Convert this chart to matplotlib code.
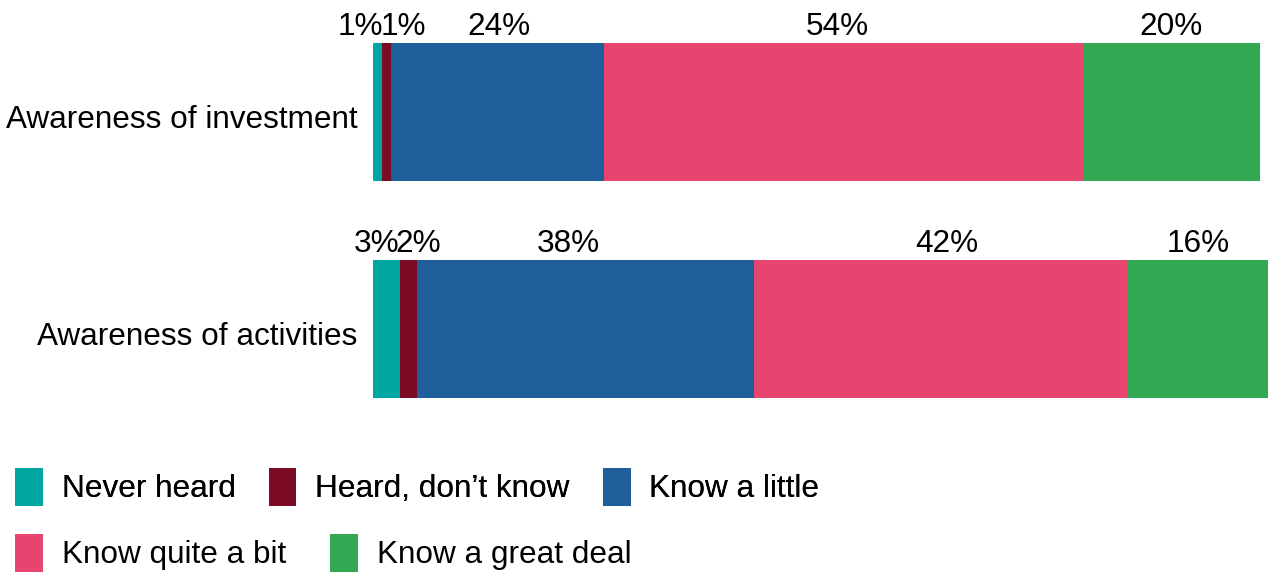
import matplotlib.pyplot as plt
import numpy as np

plt.rcParams['font.family'] = ['Liberation Sans', 'DejaVu Sans']

# data
questions = ["Awareness of investment", "Awareness of activities"]
categories = ["Never heard", "Heard, don\u2019t know", "Know a little",
              "Know quite a bit", "Know a great deal"]
investment = [1, 1, 24, 54, 20]
activities = [3, 2, 38, 42, 16]
colors = ["#00a6a0", "#7c0c24", "#1f5f9c", "#e84470", "#30a952"]

# small nudges (pixels) so the tiny labels do not overlap
label_dx = [[-17, 17, 2, -6, 0],
            [-10, 10, -18, 6, 0]]

FS = 22.7

fig = plt.figure(figsize=(12.68, 5.74), dpi=100)
ax = fig.add_axes([373 / 1268, 1 - 398 / 574, 887 / 1268, 355 / 574])

values = np.array([investment, activities])
y = np.arange(len(questions))
h = 0.634
left = np.zeros(len(questions))
bars = []
for j, cat in enumerate(categories):
    b = ax.barh(y, values[:, j], left=left, height=h, color=colors[j],
                label=cat, clip_on=False)
    bars.append(b)
    for i in range(len(questions)):
        cx = left[i] + values[i, j] / 2
        ax.annotate(f"{values[i, j]}%", xy=(cx, y[i] - h / 2),
                    xytext=(label_dx[i][j] * 0.72, 6), textcoords="offset points",
                    ha="center", va="baseline", fontsize=FS, annotation_clip=False)
    left = left + values[:, j]

# category labels on the left (a little below bar centre, as in the source)
for i, q in enumerate(questions):
    ax.annotate(q, xy=(0, y[i]), xycoords=("axes fraction", "data"),
                xytext=(-11, -3), textcoords="offset points",
                ha="right", va="center_baseline", fontsize=FS, annotation_clip=False)

ax.set_xlim(0, 100)
ax.set_ylim(len(questions) - 1 + h / 2, -h / 2)
ax.set_yticks([])
ax.set_xticks([])
for s in ax.spines.values():
    s.set_visible(False)

leg_kw = dict(frameon=False, fontsize=FS, handlelength=0.88, handleheight=1.48,
              handletextpad=0.6, columnspacing=1.05, borderpad=0, borderaxespad=0,
              loc="center left", bbox_transform=fig.transFigure)
leg1 = fig.legend(handles=bars[:3], labels=categories[:3], ncol=3,
                  bbox_to_anchor=(15 / 1268, 1 - 487 / 574), **leg_kw)
fig.add_artist(leg1)
leg_kw["columnspacing"] = 1.4
fig.legend(handles=bars[3:], labels=categories[3:], ncol=2,
           bbox_to_anchor=(15 / 1268, 1 - 553 / 574), **leg_kw)

fig.savefig("out.png", dpi=100)
